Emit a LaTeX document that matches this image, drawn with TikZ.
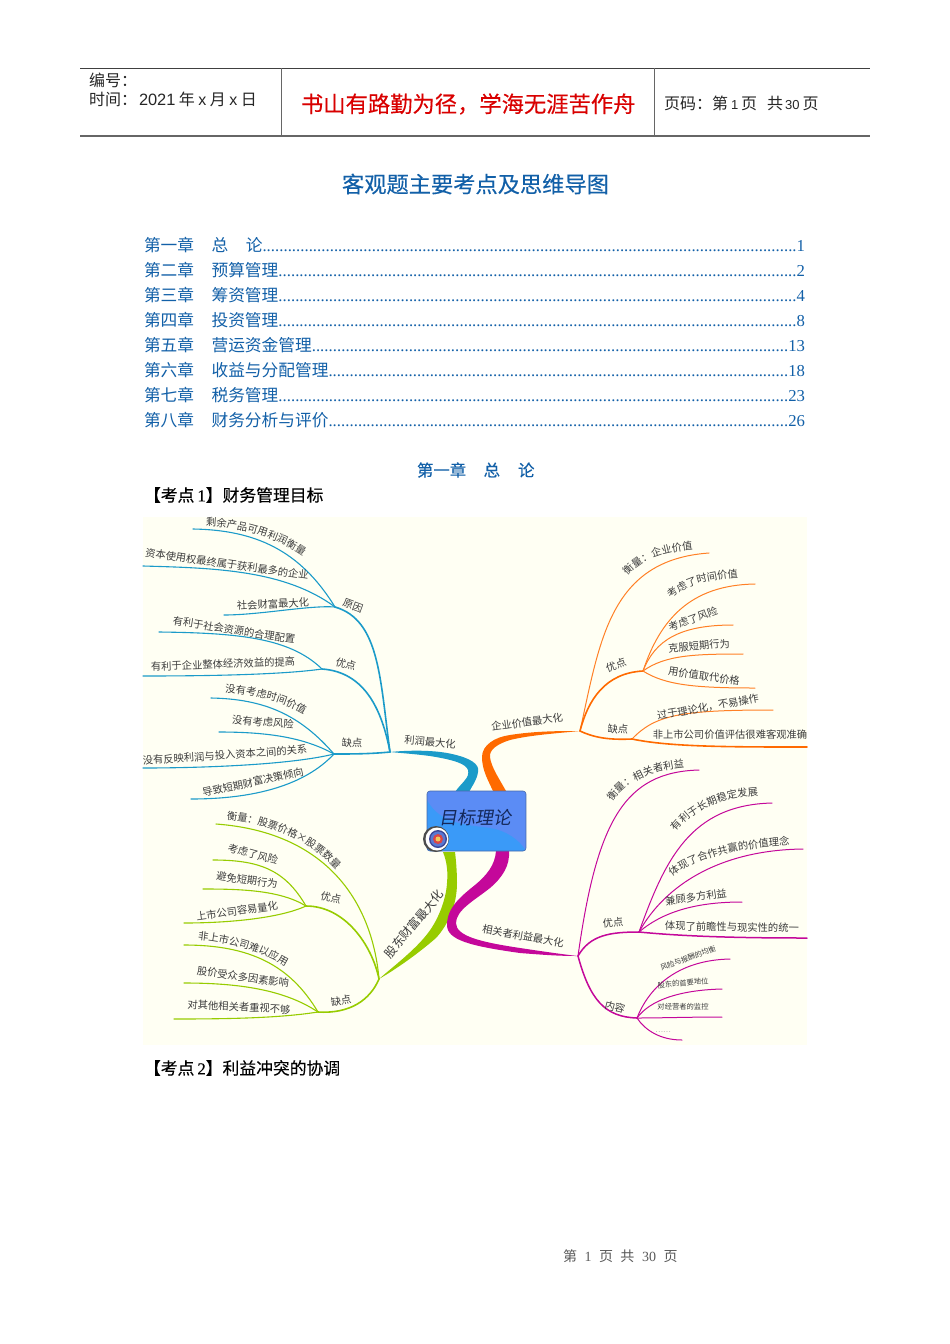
\documentclass[tikz,border=0pt]{standalone}
\usepackage{fontspec}
\usetikzlibrary{decorations.text}
\setmainfont{Noto Sans CJK SC}
\newfontfamily\lib{Liberation Sans}
\newfontfamily\libs{Liberation Serif}
\newfontfamily\cjkfb[FakeBold=0.25]{Noto Sans CJK SC}
\newfontfamily\libsb[FakeBold=0.25]{Liberation Serif}
\definecolor{bgy}{HTML}{FFFFF3}
\definecolor{tocblue}{HTML}{1260A8}
\definecolor{brb}{HTML}{1B9BC9}
\definecolor{bro}{HTML}{FF6A00}
\definecolor{brg}{HTML}{97CC00}
\definecolor{brm}{HTML}{C4089A}
\definecolor{txt}{HTML}{3C3C3C}
\definecolor{boxa}{HTML}{5B8CF5}
\definecolor{boxb}{HTML}{3A9AF8}
\definecolor{boxe}{HTML}{4669AA}
\definecolor{boxt}{HTML}{14285A}
\definecolor{tg1}{HTML}{3C4696}
\definecolor{tg2}{HTML}{5A78D2}
\definecolor{tg3}{HTML}{DC4646}
\definecolor{tg4}{HTML}{F0C85A}
\newcommand{\fz}[1]{\fontsize{#1}{#1}\selectfont}
\newcommand{\tocl}[3]{\hbox to 661pt{#1\hspace{17.5pt}#2{\libs\xleaders\hbox to 4.2pt{\hss.\hss}\hfill #3}}}
\tikzset{
 every node/.style={inner sep=0pt,outer sep=0pt},
 lab/.style={text=txt,font=\fz{10.3}},
 labs/.style={text=txt,font=\fz{7.3}},
 tocline/.style={anchor=west,text=tocblue,font=\fz{16.7}},
 hdr/.style={anchor=west,text=black!85,font=\fz{16}},
 bt/.style={decorate,decoration={text along path,text align=center,text format delimiters={|}{|},text={|\fz{10.3}\color{txt}|#1}}},
 lb1/.style={draw=brb,line width=1.6pt,line cap=round},
 lb2/.style={draw=brb,line width=1.1pt,line cap=round},
 lo1/.style={draw=bro,line width=1.6pt,line cap=round},
 lo2/.style={draw=bro!85,line width=1pt,line cap=round},
 lg1/.style={draw=brg,line width=1.6pt,line cap=round},
 lg2/.style={draw=brg,line width=1.1pt,line cap=round},
 lm1/.style={draw=brm,line width=1.5pt,line cap=round},
 lm2/.style={draw=brm,line width=1pt,line cap=round},
}
\begin{document}
\begin{tikzpicture}[x=1pt,y=-1pt]
\useasboundingbox (0,0) rectangle (950,1344);
\fill[white] (0,0) rectangle (950,1344);
% header
\coordinate (h1) at (80,68); \coordinate (h2) at (870,68);
\coordinate (h3) at (80,136); \coordinate (h4) at (870,136);
\coordinate (v1) at (281,68); \coordinate (v2) at (281,136);
\coordinate (v3) at (654,68); \coordinate (v4) at (654,136);
\draw[black!75,line width=.8pt] (h1) -- (h2);
\draw[black!60,line width=1.1pt] (h3) -- (h4);
\draw[black!60,line width=.8pt] (v1) -- (v2) (v3) -- (v4);
\node[hdr] (bh) at (89,80) {编号：};
\node[hdr] (sj) at (89,99) {时间：\hspace{2pt}{\lib\fz{16.4}2021}\hspace{3.5pt}年\hspace{3.5pt}{\lib x}\hspace{3.5pt}月\hspace{3.5pt}{\lib x}\hspace{3.5pt}日};
\node[anchor=west,text=red!85!black,font=\cjkfb\fz{22.3}] (slogan) at (301,104) {书山有路勤为径，学海无涯苦作舟};
\node[hdr] (ym) at (664,103) {页码：第\hspace{3pt}{\lib\fz{13}1}\hspace{3pt}页\hspace{10pt}共\hspace{2pt}{\lib\fz{13}30}\hspace{3pt}页};
\node[text=tocblue,font=\cjkfb\fz{22.25}] (title) at (475.5,184) {客观题主要考点及思维导图};
% toc
\node[tocline] (t1) at (144,245) {\tocl{第一章}{总\hspace{17.5pt}论}{1}};
\node[tocline] (t2) at (144,270) {\tocl{第二章}{预算管理}{2}};
\node[tocline] (t3) at (144,295) {\tocl{第三章}{筹资管理}{4}};
\node[tocline] (t4) at (144,320) {\tocl{第四章}{投资管理}{8}};
\node[tocline] (t5) at (144,345) {\tocl{第五章}{营运资金管理}{13}};
\node[tocline] (t6) at (144,370) {\tocl{第六章}{收益与分配管理}{18}};
\node[tocline] (t7) at (144,395) {\tocl{第七章}{税务管理}{23}};
\node[tocline] (t8) at (144,420) {\tocl{第八章}{财务分析与评价}{26}};
\node[anchor=west,text=tocblue,font=\cjkfb\fz{16.4}] (ch) at (417,470) {第一章\hspace{17.5pt}总\hspace{18pt}论};
\node[anchor=west,text=black,font=\cjkfb\fz{16.8}] (k1) at (144,495) {【考点\hspace{3pt}{\libsb 1}】财务管理目标};
\node[anchor=west,text=black,font=\cjkfb\fz{16.8}] (k2) at (144,1068) {【考点\hspace{3pt}{\libsb 2}】利益冲突的协调};
\node[anchor=west,text=black!65,font=\fz{14}] (foot) at (563,1256) {第\hspace{7.5pt}{\libs 1}\hspace{7.5pt}页\hspace{7.5pt}共\hspace{7.5pt}{\libs 30}\hspace{7.5pt}页};
% map background
\fill[bgy] (143,517) rectangle (807,1045);
% junctions
\coordinate (Jb) at (390,752); \coordinate (Ja) at (335,607); \coordinate (Jy) at (322,669); \coordinate (Jq) at (334,754);
\coordinate (Jo) at (580,731); \coordinate (Joy) at (643,671); \coordinate (Joq) at (632,739);
\coordinate (Jg) at (379,979); \coordinate (Jgy) at (306,906); \coordinate (Jgq) at (318,1012);
\coordinate (Jm) at (578,956); \coordinate (Jmy) at (639,932); \coordinate (Jmn) at (637,1018);
% blue
\fill[brb] (455,792) .. controls (462,782) and (470,778) .. (468,770) .. controls (466,764) and (455,760) .. (430,756) .. controls (415,754) and (400,753) .. (Jb) .. controls (410,750) and (435,750) .. (452,754) .. controls (470,758) and (480,764) .. (478,772) .. controls (477,780) and (472,786) .. (469,792) -- cycle;
\draw[lb1] (Jb) .. controls (380,680) and (380,620) .. (Ja);
\draw[lb1] (Jb) .. controls (382,710) and (365,672) .. (Jy);
\draw[lb1] (Jb) .. controls (370,754) and (350,754) .. (Jq);
\coordinate (a1) at (193,529); \coordinate (a2) at (143,566); \coordinate (a3) at (224,615);
\coordinate (b1) at (159,632); \coordinate (b2) at (143,676);
\coordinate (c1) at (211,698); \coordinate (c2) at (219,732); \coordinate (c3) at (143,768); \coordinate (c4) at (191,799);
\draw[lb2] (Ja) .. controls (300,550) and (255,530) .. (a1);
\draw[lb2] (Ja) .. controls (285,570) and (215,568) .. (a2);
\draw[lb2] (Ja) .. controls (310,605) and (260,615) .. (a3);
\draw[lb2] (Jy) .. controls (290,638) and (240,633) .. (b1);
\draw[lb2] (Jy) .. controls (280,675) and (200,676) .. (b2);
\draw[lb2] (Jq) .. controls (300,715) and (265,699) .. (c1);
\draw[lb2] (Jq) .. controls (305,738) and (270,732) .. (c2);
\draw[lb2] (Jq) .. controls (290,765) and (200,768) .. (c3);
\draw[lb2] (Jq) .. controls (305,785) and (255,799) .. (c4);
\node[lab,rotate=-5] (nb0) at (430,742) {利润最大化};
\node[lab,rotate=-20] (nb1) at (353,606) {原因};
\node[lab,rotate=-15] (nb2) at (346,664) {优点};
\node[lab,rotate=-3] (nb3) at (352,743) {缺点};
\path[bt={剩余产品可用利润衡量}] (206,526) .. controls (245,528) and (275,537) .. (303,556);
\node[lab,rotate=-8] (nb5) at (227,564) {资本使用权最终属于获利最多的企业};
\node[lab,rotate=3] (nb6) at (273,604) {社会财富最大化};
\node[lab,rotate=-9] (nb7) at (234,630) {有利于社会资源的合理配置};
\node[lab,rotate=2] (nb8) at (223,664) {有利于企业整体经济效益的提高};
\path[bt={没有考虑时间价值}] (224,693) .. controls (250,694) and (280,700) .. (305,715);
\node[lab,rotate=-5] (nb10) at (263,722) {没有考虑风险};
\node[lab,rotate=4] (nb11) at (225,755) {没有反映利润与投入资本之间的关系};
\node[lab,rotate=12] (nb12) at (253,782) {导致短期财富决策倾向};
% orange
\fill[bro] (493,791) .. controls (488,780) and (482,770) .. (482,757) .. controls (482,745) and (495,737) .. (510,735) .. controls (535,731) and (560,731) .. (Jo) .. controls (560,733) and (530,735) .. (510,740) .. controls (497,744) and (489,750) .. (490,757) .. controls (491,767) and (500,780) .. (506,791) -- cycle;
\coordinate (o1) at (709,553); \coordinate (o2) at (755,584); \coordinate (o3) at (733,625); \coordinate (o4) at (743,654); \coordinate (o5) at (755,688); \coordinate (o6) at (773,710); \coordinate (o7) at (807,747);
\draw[lo2] (Jo) .. controls (600,640) and (610,560) .. (o1);
\draw[lo1] (Jo) .. controls (588,700) and (605,673) .. (Joy);
\draw[lo1] (Jo) .. controls (595,738) and (610,740) .. (Joq);
\draw[lo2] (Joy) .. controls (660,620) and (690,585) .. (o2);
\draw[lo2] (Joy) .. controls (655,640) and (680,625) .. (o3);
\draw[lo2] (Joy) .. controls (665,655) and (695,654) .. (o4);
\draw[lo2] (Joy) .. controls (665,685) and (695,688) .. (o5);
\draw[lo2] (Joq) .. controls (655,715) and (680,710) .. (o6);
\draw[lo1] (Joq) .. controls (670,747) and (730,747) .. (o7);
\node[lab,rotate=8] (no0) at (527,722) {企业价值最大化};
\path[bt={衡量：企业价值}] (625,579) .. controls (640,560) and (660,552) .. (697,549);
\node[lab,rotate=20] (no2) at (616,665) {优点};
\node[lab,rotate=-5] (no3) at (618,729) {缺点};
\path[bt={考虑了时间价值}] (669,601) .. controls (683,585) and (710,579) .. (741,577);
\node[lab,rotate=20] (no5) at (693,619) {考虑了风险};
\node[lab,rotate=5] (no6) at (699,646) {克服短期行为};
\node[lab,rotate=-8] (no7) at (704,676) {用价值取代价格};
\node[lab,rotate=10] (no8) at (708,707) {过于理论化，不易操作};
\node[lab] (no9) at (730,735) {非上市公司价值评估很难客观准确};
% green
\fill[brg] (443,852) .. controls (447,862) and (448,872) .. (447,883) .. controls (446,900) and (438,920) .. (428,933) .. controls (415,950) and (395,965) .. (Jg) .. controls (398,968) and (420,952) .. (436,938) .. controls (448,925) and (457,905) .. (457,883) .. controls (457,872) and (456,860) .. (455,852) -- cycle;
\coordinate (g1) at (216,824); \coordinate (g2) at (213,860); \coordinate (g3) at (203,889); \coordinate (g4) at (184,923); \coordinate (g5) at (184,945); \coordinate (g6) at (184,983); \coordinate (g7) at (174,1019);
\draw[lg2] (Jg) .. controls (372,900) and (325,832) .. (g1);
\draw[lg1] (Jg) .. controls (372,945) and (345,906) .. (Jgy);
\draw[lg1] (Jg) .. controls (370,1000) and (350,1014) .. (Jgq);
\draw[lg2] (Jgy) .. controls (285,870) and (260,860) .. (g2);
\draw[lg2] (Jgy) .. controls (280,890) and (240,889) .. (g3);
\draw[lg2] (Jgy) .. controls (280,918) and (230,923) .. (g4);
\draw[lg2] (Jgq) .. controls (290,965) and (250,945) .. (g5);
\draw[lg2] (Jgq) .. controls (285,990) and (240,983) .. (g6);
\draw[lg2] (Jgq) .. controls (280,1018) and (230,1019) .. (g7);
\node[lab,font=\fz{12},rotate=50] (ng0) at (414,924) {股东财富最大化};
\node[lab,rotate=-12] (ng1) at (331,898) {优点};
\node[lab,rotate=10] (ng2) at (341,1001) {缺点};
\path[bt={衡量：股票价格×股票数量}] (226,819) .. controls (270,824) and (310,840) .. (337,870);
\node[lab,rotate=-15] (ng4) at (253,854) {考虑了风险};
\node[lab,rotate=-8] (ng5) at (247,880) {避免短期行为};
\node[lab,rotate=8] (ng6) at (237,911) {上市公司容易量化};
\path[bt={非上市公司难以应用}] (195,939) .. controls (225,942) and (255,948) .. (288,968);
\node[lab,rotate=-8] (ng8) at (243,977) {股价受众多因素影响};
\node[lab,rotate=-3] (ng9) at (239,1007) {对其他相关者重视不够};
% magenta
\fill[brm] (496,851) .. controls (495,865) and (487,875) .. (475,885) .. controls (460,897) and (447,908) .. (447,925) .. controls (447,940) and (470,946) .. (520,953) .. controls (545,955) and (560,956) .. (Jm) .. controls (560,954) and (540,951) .. (520,948) .. controls (480,942) and (456,936) .. (456,923) .. controls (456,910) and (475,900) .. (490,888) .. controls (503,877) and (510,865) .. (509,851) -- cycle;
\coordinate (m1) at (699,770); \coordinate (m2) at (772,803); \coordinate (m3) at (803,849); \coordinate (m4) at (742,902); \coordinate (m5) at (807,938);
\coordinate (m6) at (730,959); \coordinate (m7) at (722,989); \coordinate (m8) at (722,1017); \coordinate (m9) at (682,1040);
\draw[lm2] (Jm) .. controls (597,820) and (625,772) .. (m1);
\draw[lm1] (Jm) .. controls (590,935) and (610,932) .. (Jmy);
\draw[lm1] (Jm) .. controls (590,1000) and (605,1017) .. (Jmn);
\draw[lm2] (Jmy) .. controls (665,860) and (690,805) .. (m2);
\draw[lm2] (Jmy) .. controls (665,885) and (720,850) .. (m3);
\draw[lm2] (Jmy) .. controls (665,910) and (700,902) .. (m4);
\draw[lm1] (Jmy) .. controls (690,937) and (750,938) .. (m5);
\draw[lm2] (Jmn) .. controls (650,985) and (680,960) .. (m6);
\draw[lm2] (Jmn) .. controls (650,1000) and (680,990) .. (m7);
\draw[lm2] (Jmn) .. controls (660,1018) and (690,1017) .. (m8);
\draw[lm2] (Jmn) .. controls (645,1030) and (660,1040) .. (m9);
\node[lab,rotate=-10] (nm0) at (523,936) {相关者利益最大化};
\node[lab,rotate=5] (nm1) at (613,923) {优点};
\node[lab,rotate=-15] (nm2) at (615,1007) {内容};
\path[bt={衡量：相关者利益}] (611,804) .. controls (625,782) and (650,770) .. (687,767);
\path[bt={有利于长期稳定发展}] (675,833) .. controls (692,810) and (720,798) .. (760,795);
\path[bt={体现了合作共赢的价值理念}] (670,878) .. controls (695,858) and (735,848) .. (792,845);
\node[lab,rotate=8] (nm6) at (696,897) {兼顾多方利益};
\node[lab,rotate=-1] (nm7) at (732,927) {体现了前瞻性与现实性的统一};
\node[labs,rotate=20] (nm8) at (688,958) {风险与报酬的均衡};
\node[labs,rotate=5] (nm9) at (683,983) {股东的首要地位};
\node[labs] (nm10) at (683,1007) {对经营者的监控};
\node[labs,text=black!45] (nm11) at (663,1032) {……};
% centre
\begin{scope}
\clip[rounded corners=3pt] (427,791) rectangle (526,851);
\fill[boxa] (427,791) rectangle (526,851);
\fill[boxb] (427,800) .. controls (440,825) and (470,825) .. (490,828) .. controls (505,830) and (520,840) .. (526,851) -- (427,851) -- cycle;
\end{scope}
\node[draw=boxe,line width=.6pt,rounded corners=3pt,minimum width=99pt,minimum height=60pt] (root) at (476.5,821) {};
\node[text=boxt,font=\fz{18},xslant=.18] (roott) at (476.5,818) {目标理论};
% target icon
\fill[black!70] (436,839) circle (13);
\fill[white] (437,839) circle (11.5);
\fill[tg1] (438,839) circle (9);
\fill[tg2] (438,839) circle (7.5);
\fill[tg3] (438,839) circle (5);
\fill[tg4] (438,839) circle (2.5);
\end{tikzpicture}
\end{document}
